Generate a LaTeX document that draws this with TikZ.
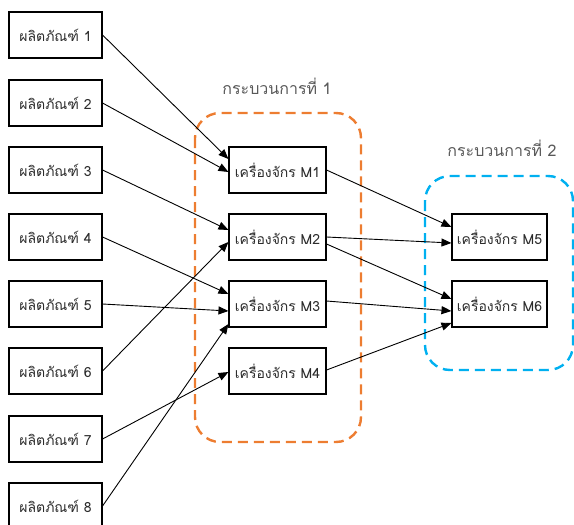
\documentclass[tikz,border=0pt]{standalone}
\usepackage{fontspec}
\newfontfamily\thaifont[Script=Thai]{Loma}
\usetikzlibrary{arrows.meta}
\definecolor{procorange}{HTML}{ED7D31}
\definecolor{procblue}{HTML}{00B0F0}
\definecolor{boxtext}{HTML}{2B2B2B}
\definecolor{labeltext}{HTML}{595959}
\tikzset{
  prodbox/.style={draw, line width=1.1pt, minimum width=93pt, minimum height=46pt,
    inner sep=0pt, font=\thaifont\fontsize{14}{16}\selectfont, text=boxtext},
  machbox/.style={draw, line width=1.1pt, minimum width=97pt, minimum height=46pt,
    inner sep=0pt, font=\thaifont\fontsize{14}{16}\selectfont, text=boxtext},
  proclabel/.style={font=\thaifont\fontsize{16}{19}\selectfont, text=labeltext},
  procframe/.style={line width=2.4pt, dash pattern=on 10pt off 6pt, rounded corners=25pt},
  flow/.style={line width=0.9pt, -{Triangle[length=10pt,width=8pt]}},
}
\begin{document}
\begin{tikzpicture}[x=1pt,y=-1pt]
\useasboundingbox (0,0) rectangle (574,525);
% process groups
\draw[procframe, procorange] (195,113) rectangle (361,442);
\draw[procframe, procblue] (425,176) rectangle (573,370);
\node[proclabel] (lab1) at (277,86) {กระบวนการที่ 1};
\node[proclabel] (lab2) at (502,148) {กระบวนการที่ 2};
% products
\node[prodbox] (p1) at (55.5,35) {ผลิตภัณฑ์ 1};
\node[prodbox] (p2) at (55.5,103) {ผลิตภัณฑ์ 2};
\node[prodbox] (p3) at (55.5,170) {ผลิตภัณฑ์ 3};
\node[prodbox] (p4) at (55.5,237) {ผลิตภัณฑ์ 4};
\node[prodbox] (p5) at (55.5,304) {ผลิตภัณฑ์ 5};
\node[prodbox] (p6) at (55.5,371) {ผลิตภัณฑ์ 6};
\node[prodbox] (p7) at (55.5,439) {ผลิตภัณฑ์ 7};
\node[prodbox] (p8) at (55.5,506) {ผลิตภัณฑ์ 8};
% machines
\node[machbox] (m1) at (277.5,170) {เครื่องจักร M1};
\node[machbox] (m2) at (277.5,237) {เครื่องจักร M2};
\node[machbox] (m3) at (277.5,304) {เครื่องจักร M3};
\node[machbox] (m4) at (277.5,371) {เครื่องจักร M4};
\node[machbox, minimum width=95pt] (m5) at (499.5,237) {เครื่องจักร M5};
\node[machbox, minimum width=95pt] (m6) at (499.5,304) {เครื่องจักร M6};
% products to machines
\draw[flow] (p1.east) -- ([yshift=11pt]m1.west);
\draw[flow] (p2.east) -- ([yshift=-2pt]m1.west);
\draw[flow] (p3.east) -- ([yshift=7pt]m2.west);
\draw[flow] (p6.east) -- ([yshift=-5pt]m2.west);
\draw[flow] (p4.east) -- ([yshift=10pt]m3.west);
\draw[flow] (p5.east) -- ([yshift=-7pt]m3.west);
\draw[flow] (p8.east) -- ([yshift=-20pt]m3.west);
\draw[flow] (p7.east) -- ([yshift=-1pt]m4.west);
% machines to machines
\draw[flow] (m1.east) -- ([yshift=10pt]m5.west);
\draw[flow] (m2.east) -- ([yshift=-6pt]m5.west);
\draw[flow] ([yshift=-7pt]m2.east) -- ([yshift=5pt]m6.west);
\draw[flow] ([yshift=3pt]m3.east) -- ([yshift=-7pt]m6.west);
\draw[flow] ([yshift=1pt]m4.east) -- ([yshift=-19pt]m6.west);
\end{tikzpicture}
\end{document}
